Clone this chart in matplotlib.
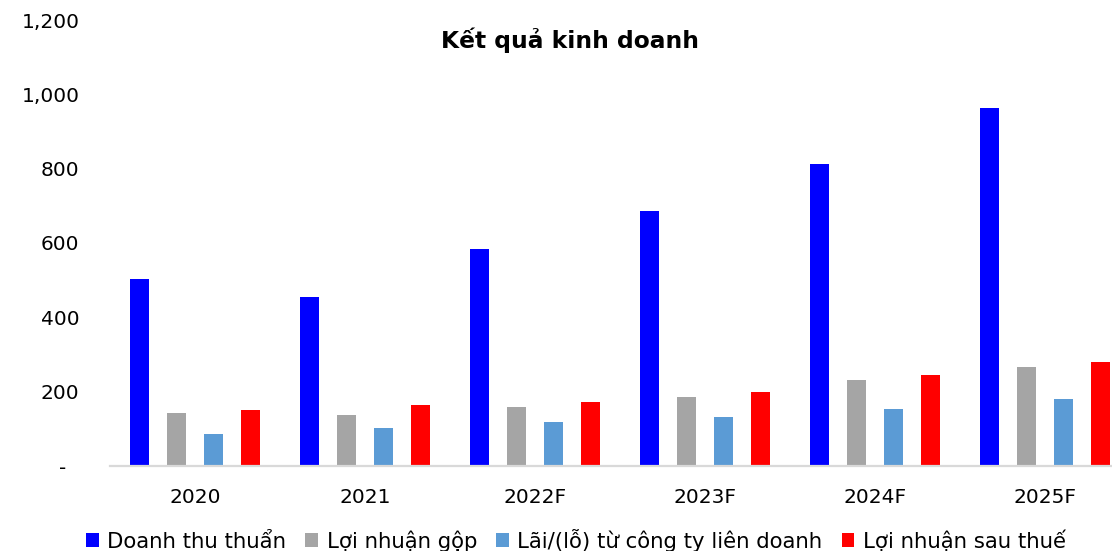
import matplotlib
matplotlib.use("Agg")
import matplotlib.pyplot as plt
from matplotlib.patches import Patch
import numpy as np

plt.rcParams['font.family'] = ['DejaVu Sans']

categories = ["2020", "2021", "2022F", "2023F", "2024F", "2025F"]
series_names = ["Doanh thu thuẩn", "Lợi nhuận gộp", "Lãi/(lỗ) từ công ty liên doanh", "Lợi nhuận sau thuế"]
doanh_thu = [503, 455, 584, 686, 813, 964]
loi_nhuan_gop = [143, 138, 160, 186, 232, 266]
lai_lien_doanh = [86, 103, 118, 133, 154, 179]
loi_nhuan_sau_thue = [150, 165, 173, 200, 246, 281]
ytick_values = [0, 200, 400, 600, 800, 1000, 1200]
ytick_labels = ["-  ", "200", "400", "600", "800", "1,000", "1,200"]
title = "Kết quả kinh doanh"

colors = ["#0000FF", "#A5A5A5", "#5B9BD5", "#FF0000"]
series = [doanh_thu, loi_nhuan_gop, lai_lien_doanh, loi_nhuan_sau_thue]

fig = plt.figure(figsize=(11.12, 5.51), dpi=100)
ax = fig.add_axes([110/1112, (551-466)/551, 1020/1112, 446/551])

x = np.arange(len(categories))
offsets = [-0.326, -0.109, 0.109, 0.326]
width = 0.112
for vals, off, c in zip(series, offsets, colors):
    ax.bar(x + off, vals, width=width, color=c, edgecolor='none', zorder=2)

ax.set_xlim(-0.5, len(categories) - 0.5)
ax.set_ylim(0, 1200)
ax.set_yticks(ytick_values)
ax.set_yticklabels(ytick_labels, fontsize=14.5)
ax.set_xticks(x)
ax.set_xticklabels(categories, fontsize=14.5)
ax.tick_params(axis='y', length=0, pad=22)
ax.tick_params(axis='x', length=0, pad=16)
for s in ['top', 'right', 'left']:
    ax.spines[s].set_visible(False)
ax.spines['bottom'].set_color('#D9D9D9')
ax.spines['bottom'].set_linewidth(1.6)

fig.text(570/1112, 1 - 40/551, title, ha='center', va='center', fontsize=16.8, fontweight='bold')

handles = [Patch(facecolor=c, edgecolor='none') for c in colors]
fig.legend(handles, series_names, loc='center', bbox_to_anchor=(576/1112, 1 - 540/551),
           ncol=4, frameon=False, fontsize=15.3, handlelength=0.6, handleheight=0.6,
           handletextpad=0.4, columnspacing=0.9, borderpad=0, borderaxespad=0)

fig.savefig("out.png", dpi=100)
